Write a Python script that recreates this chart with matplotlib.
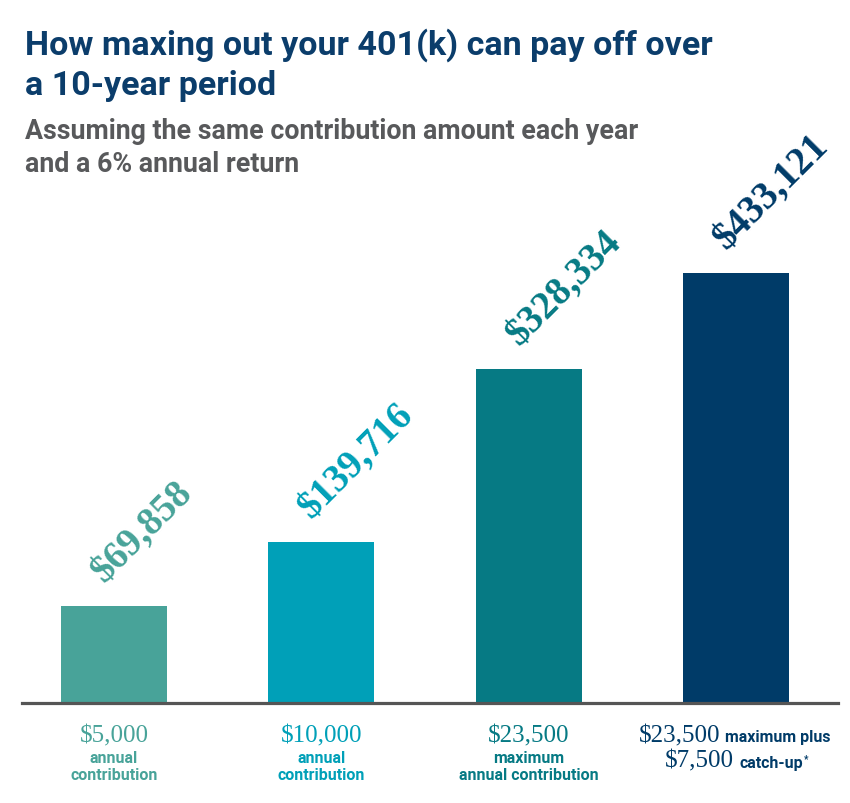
import matplotlib.pyplot as plt

# data
values = [69858, 139716, 328334, 433121]
value_labels = ['$69,858', '$139,716', '$328,334', '$433,121']
amount_labels = ['$5,000', '$10,000', '$23,500']
desc_top = ['annual', 'annual', 'maximum']
desc_bottom = ['contribution', 'contribution', 'annual contribution']
last_amounts = ['$23,500', '$7,500']
last_desc = ['maximum plus', 'catch-up']

colors = ['#48a399', '#00a0b8', '#067a84', '#003b68']
title_color = '#0b3d6b'
sub_color = '#58595b'

y_floor = -36000  # bars start below zero, like the original design

fig = plt.figure(figsize=(8.5, 8.04), dpi=100)
ax = fig.add_axes([22 / 850, 1 - 704 / 804, (838 - 22) / 850, (704 - 200) / 804])

x = list(range(len(values)))
ax.bar(x, [v - y_floor for v in values], bottom=y_floor, width=0.51, color=colors)
ax.set_xlim(-0.443, 3.49)
ax.set_ylim(y_floor, 514000)

for s in ['top', 'right', 'left']:
    ax.spines[s].set_visible(False)
ax.spines['bottom'].set_color('#555555')
ax.spines['bottom'].set_linewidth(2.3)
ax.set_xticks([])
ax.set_yticks([])

# rotated value labels above each bar
for i, v in enumerate(values):
    ax.annotate(value_labels[i], xy=(i, v), xytext=(-2.5, 12.5), textcoords='offset points',
                rotation=45, rotation_mode='anchor', ha='left', va='bottom',
                fontsize=28, fontweight='bold', family='Liberation Serif', color=colors[i])

# category labels under the first three bars
xc = ('data', 'axes fraction')
for i in range(3):
    ax.annotate(amount_labels[i], xy=(i, 0), xycoords=xc, xytext=(0, -27.5),
                textcoords='offset points', ha='center', va='baseline',
                fontsize=18, family='Liberation Serif', color=colors[i])
    ax.annotate(desc_top[i], xy=(i, 0), xycoords=xc, xytext=(0, -42.5),
                textcoords='offset points', ha='center', va='baseline',
                fontsize=11.5, fontweight='bold', family='Roboto', color=colors[i])
    ax.annotate(desc_bottom[i], xy=(i, 0), xycoords=xc, xytext=(0, -55),
                textcoords='offset points', ha='center', va='baseline',
                fontsize=11.5, fontweight='bold', family='Roboto', color=colors[i])

# last category has mixed fonts on two lines
splits = [-11.5, -1.5]
y_off = [-27.5, -46]
for k in range(2):
    ax.annotate(last_amounts[k], xy=(3, 0), xycoords=xc, xytext=(splits[k], y_off[k]),
                textcoords='offset points', ha='right', va='baseline',
                fontsize=18, family='Liberation Serif', color=colors[3])
    t = ax.annotate(last_desc[k], xy=(3, 0), xycoords=xc, xytext=(splits[k] + 3.5, y_off[k]),
                    textcoords='offset points', ha='left', va='baseline',
                    fontsize=11.5, fontweight='bold', family='Roboto', color=colors[3])
ax.annotate('*', xy=(1, 1), xycoords=t, xytext=(0.5, 1), textcoords='offset points',
            ha='left', va='top', fontsize=7, fontweight='bold', family='Roboto', color=colors[3])

# titles
fig.text(25 / 850, 1 - 55 / 804, 'How maxing out your 401(k) can pay off over',
         fontsize=24.5, fontweight='bold', family='Roboto', color=title_color, va='baseline')
fig.text(25 / 850, 1 - 95 / 804, 'a 10-year period',
         fontsize=24.5, fontweight='bold', family='Roboto', color=title_color, va='baseline')
fig.text(25 / 850, 1 - 139 / 804, 'Assuming the same contribution amount each year',
         fontsize=19.3, fontweight='bold', family='Roboto', color=sub_color, va='baseline')
fig.text(25 / 850, 1 - 172 / 804, 'and a 6% annual return',
         fontsize=19.3, fontweight='bold', family='Roboto', color=sub_color, va='baseline')

fig.savefig('out.png', dpi=100, facecolor='white')
